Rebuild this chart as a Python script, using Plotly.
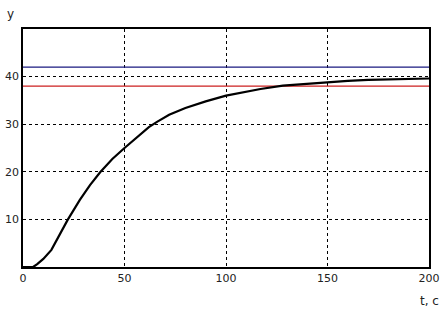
import plotly.graph_objects as go

t = [0, 5, 7, 10, 14, 17, 22, 28, 33, 38, 44, 50, 54, 58, 62, 66, 72, 80, 90, 100,
     110, 117, 128, 137, 150, 160, 170, 180, 190, 200]
y = [0, 0, 0.6, 1.7, 3.6, 5.9, 9.9, 14.1, 17.2, 19.9, 22.7, 25.0, 26.5, 28, 29.4, 30.5, 32, 33.4, 34.8, 36,
     36.9, 37.4, 38.1, 38.4, 38.9, 39.1, 39.3, 39.45, 39.55, 39.6]
upper_level = 42
lower_level = 38
x_ticks = [0, 50, 100, 150, 200]
y_ticks = [10, 20, 30, 40]

fig = go.Figure()
fig.add_trace(go.Scatter(x=[0, 200], y=[upper_level, upper_level], mode="lines",
                         line=dict(color="#1a1a80", width=1.2), hoverinfo="skip"))
fig.add_trace(go.Scatter(x=[0, 200], y=[lower_level, lower_level], mode="lines",
                         line=dict(color="#cc1f1f", width=1.2), hoverinfo="skip"))
fig.add_trace(go.Scatter(x=t, y=y, mode="lines", line=dict(color="black", width=2.2)))

fig.update_layout(
    width=447, height=314, showlegend=False,
    margin=dict(l=23, r=18, t=29, b=47),
    plot_bgcolor="white", paper_bgcolor="white",
    font=dict(family="DejaVu Sans", size=11, color="#222"),
)
fig.update_xaxes(range=[0, 200], tickvals=x_ticks, showgrid=True, gridcolor="black", griddash="3px,3px",
                 gridwidth=1, showline=True, linecolor="black", linewidth=1.5, mirror=True,
                 zeroline=False, ticks="", ticklen=0, automargin=False)
fig.update_yaxes(range=[0, 50], tickvals=y_ticks, showgrid=True, gridcolor="black", griddash="3px,3px",
                 gridwidth=1, showline=True, linecolor="black", linewidth=1.5, mirror=True,
                 zeroline=False, ticks="", ticklen=0, automargin=False)
fig.add_annotation(text="y", xref="paper", yref="paper", x=-0.03, y=1.0, yshift=15, showarrow=False,
                   xanchor="center", yanchor="middle", font=dict(size=12))
fig.add_annotation(text="t, c", xref="paper", yref="paper", x=1.0, y=0, yshift=-34, xshift=0, showarrow=False,
                   xanchor="center", yanchor="middle", font=dict(size=12))
fig.write_html("out.html")
